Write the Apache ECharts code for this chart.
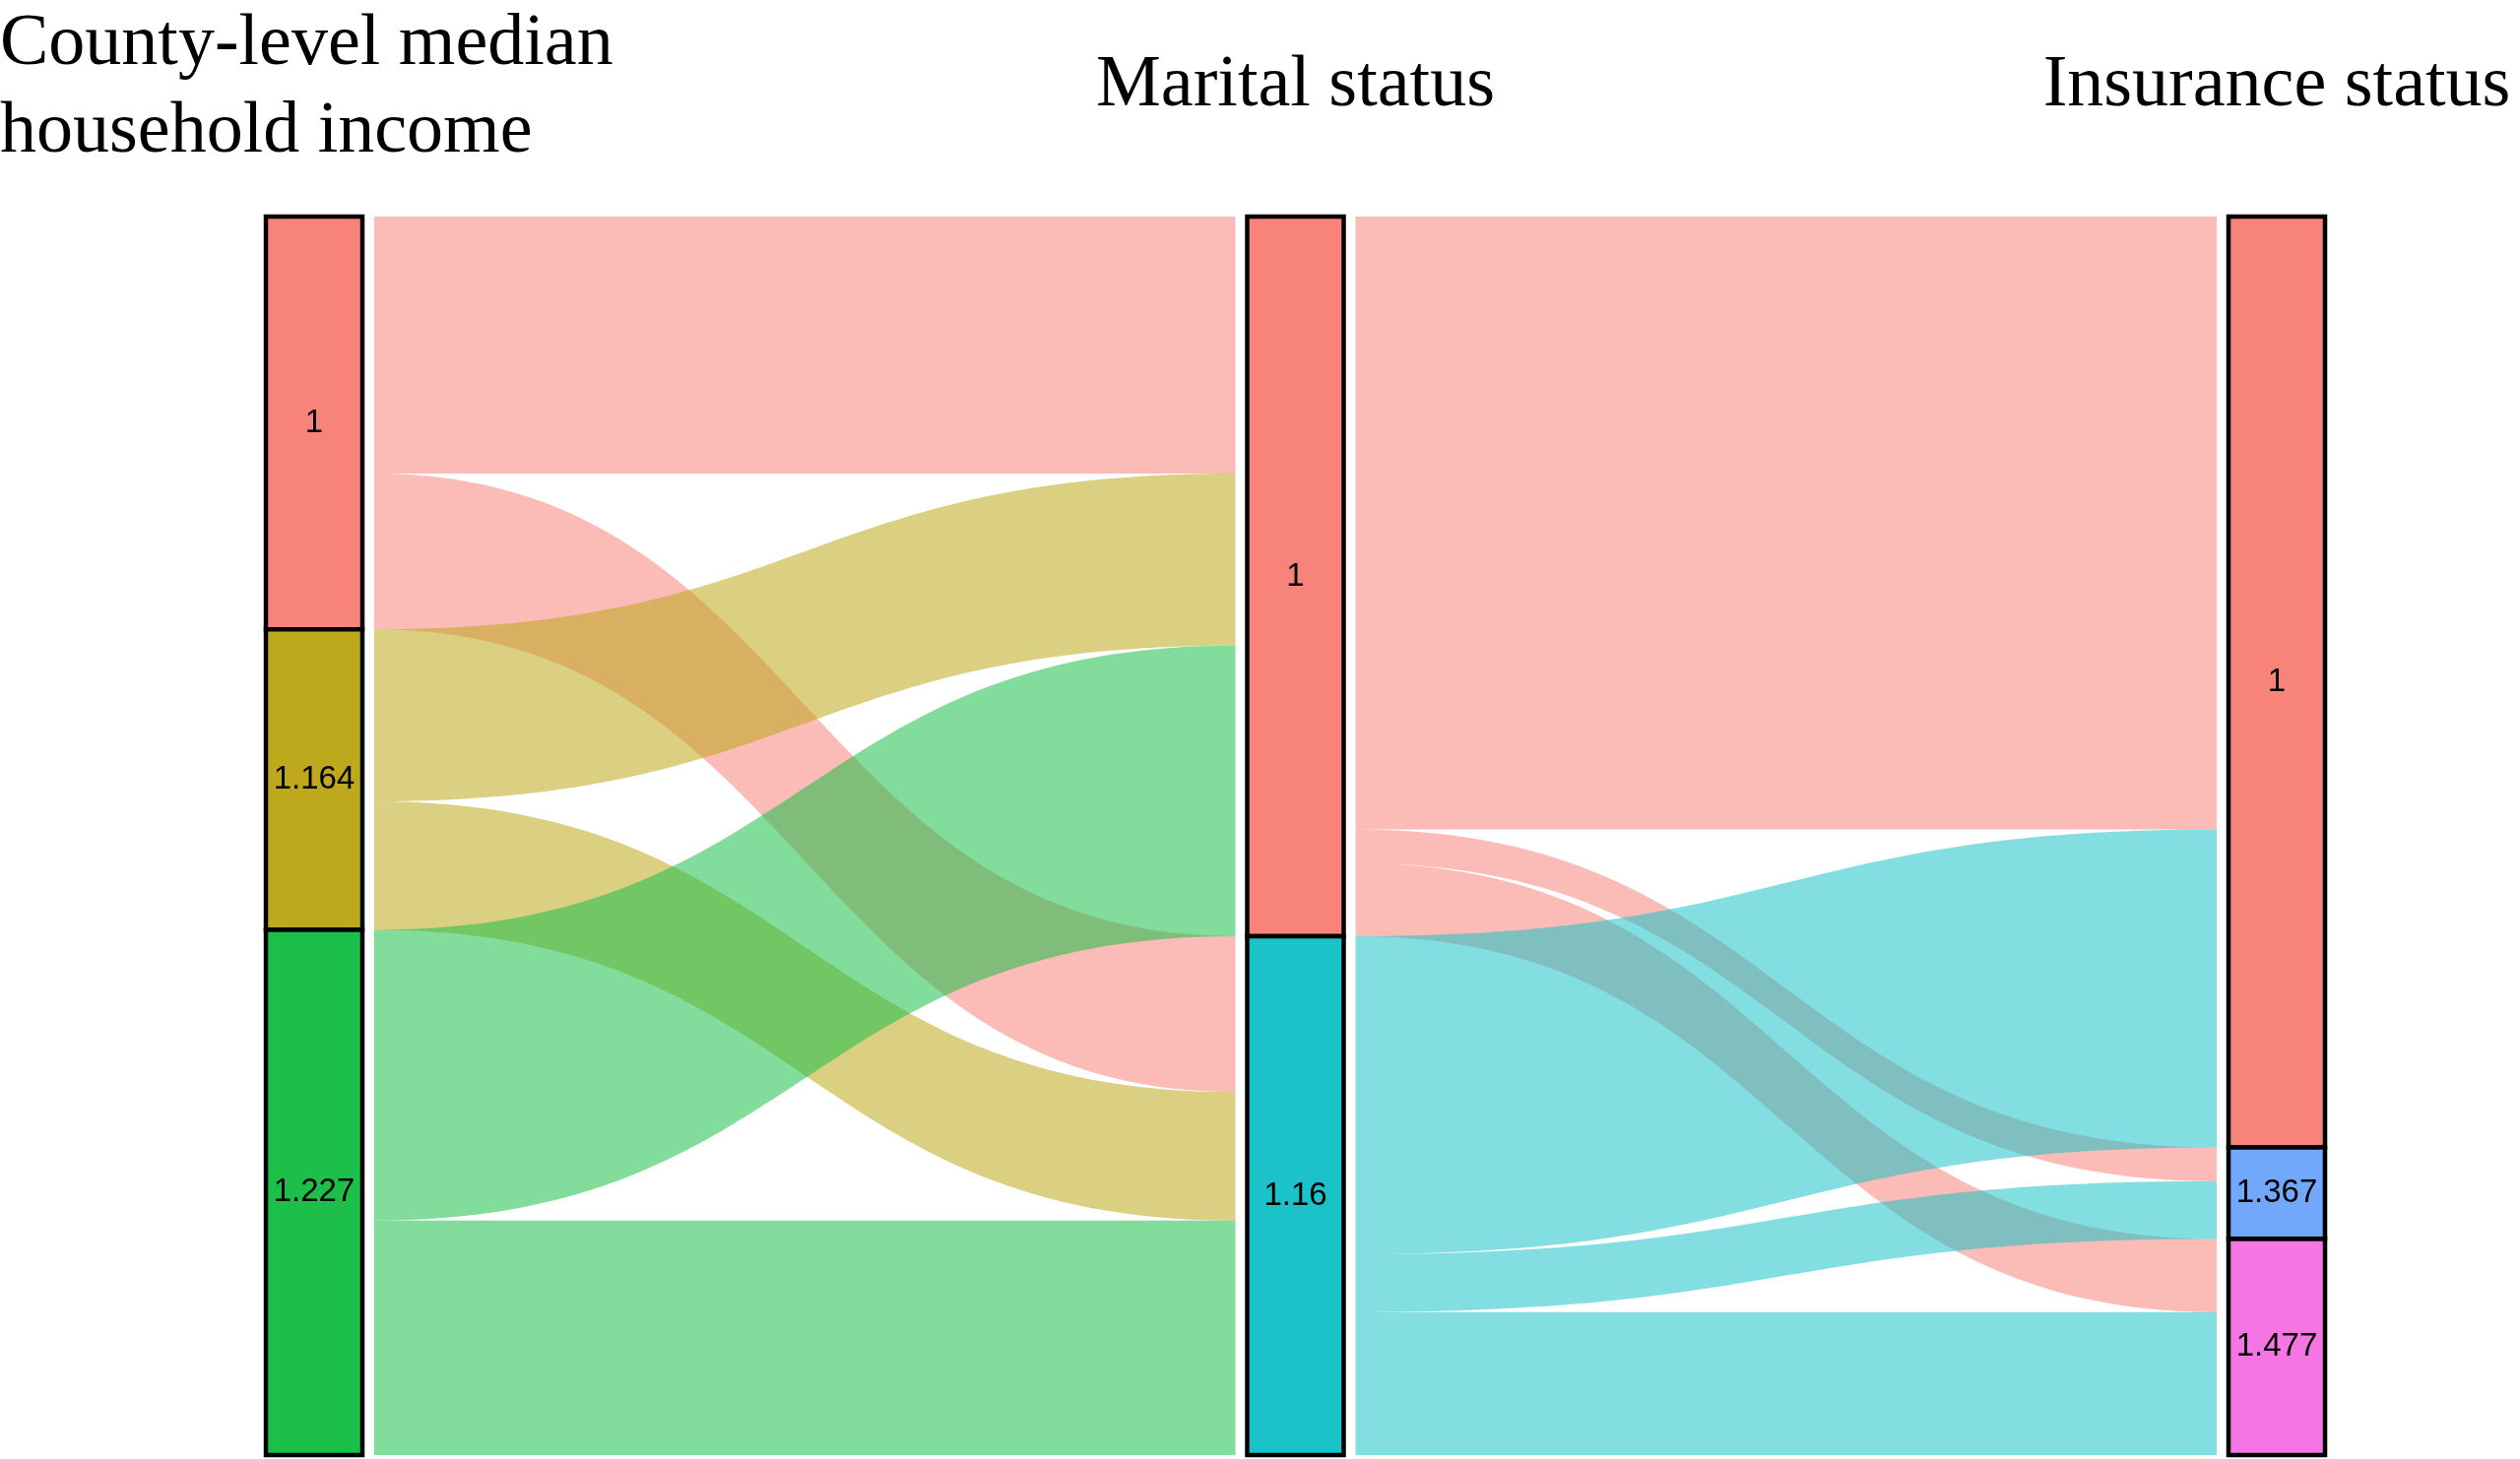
<!DOCTYPE html>
<html lang="en">

<head>
    <meta charset="UTF-8">
    <title>Alluvial</title>
    <script src="https://cdn.jsdelivr.net/npm/echarts@6/dist/echarts.min.js"></script>
    <style>
        html, body { margin: 0; padding: 0; background: #fff; }
        #main { width: 2559px; height: 1482px; }
    </style>
</head>

<body>
    <div id="main"></div>
    <script>
        // stage titles and levels
        var stageTitles = ['County-level median\nhousehold income', 'Marital status', 'Insurance status'];
        var incomeLevels = ['1', '1.164', '1.227'];
        var maritalLevels = ['1', '1.16'];
        var insuranceLevels = ['1', '1.367', '1.477'];

        // flows: rows = source level, columns = target level
        var incomeToMarital = [
            [160, 97],
            [107, 80],
            [181, 146]
        ];
        var maritalToInsurance = [
            [381.5, 21, 45.5],
            [198, 36, 89]
        ];

        var incomeColors = ['#F8837A', '#BEA81C', '#1CBF4A'];
        var maritalColors = ['#F8837A', '#1BC3C9'];
        var insuranceColors = ['#F8837A', '#71A8FB', '#F575E5'];

        // build nodes / links
        var stages = [
            { key: 'inc', levels: incomeLevels, colors: incomeColors },
            { key: 'mar', levels: maritalLevels, colors: maritalColors },
            { key: 'ins', levels: insuranceLevels, colors: insuranceColors }
        ];
        var nodes = [];
        stages.forEach(function (s, d) {
            s.levels.forEach(function (lv, i) {
                nodes.push({
                    name: s.key + '_' + lv,
                    level: lv,
                    depth: d,
                    itemStyle: { color: s.colors[i] }
                });
            });
        });
        var links = [];
        function addLinks(src, tgt, table) {
            table.forEach(function (row, i) {
                row.forEach(function (v, j) {
                    links.push({
                        source: src.key + '_' + src.levels[i],
                        target: tgt.key + '_' + tgt.levels[j],
                        value: v
                    });
                });
            });
        }
        addLinks(stages[0], stages[1], incomeToMarital);
        addLinks(stages[1], stages[2], maritalToInsurance);

        var nodeW = 98;   // visible stratum width
        var gap = 12;     // white space between stratum and flows
        var L = 270, R = 198, T = 220, B = 4;
        var centers = [L + nodeW / 2, (L + 2559 - R) / 2, 2559 - R - nodeW / 2];

        var titleFont = {
            fontFamily: 'Liberation Serif',
            fontSize: 74,
            fontWeight: 'normal',
            color: '#000',
            lineHeight: 89
        };

        var myChart = echarts.init(document.getElementById('main'));
        var option = {
            backgroundColor: '#fff',
            animation: false,
            title: stageTitles.map(function (t, i) {
                // first title: lines left aligned, block starting at the left edge
                return {
                    text: t,
                    left: i === 0 ? 0 : centers[i],
                    textAlign: i === 0 ? 'left' : 'center',
                    top: i === 0 ? 1 : 43,
                    padding: 0,
                    textStyle: titleFont
                };
            }),
            series: [
                // flows (wider invisible nodes leave a gap next to each stratum)
                {
                    type: 'sankey',
                    silent: true,
                    left: L - gap,
                    right: R - gap,
                    top: T,
                    bottom: B,
                    nodeWidth: nodeW + 2 * gap,
                    nodeGap: 0,
                    layoutIterations: 0,
                    draggable: false,
                    data: nodes,
                    links: links,
                    label: { show: false },
                    itemStyle: { opacity: 0, borderWidth: 0 },
                    lineStyle: { color: 'source', opacity: 0.55, curveness: 0.5 },
                    emphasis: { disabled: true }
                },
                // strata
                {
                    type: 'sankey',
                    silent: true,
                    left: L,
                    right: R,
                    top: T,
                    bottom: B,
                    nodeWidth: nodeW,
                    nodeGap: 0,
                    layoutIterations: 0,
                    draggable: false,
                    data: nodes,
                    links: links,
                    label: {
                        show: true,
                        position: 'inside',
                        color: '#000',
                        fontFamily: 'Liberation Sans',
                        fontSize: 33,
                        formatter: function (p) { return p.data.level; }
                    },
                    itemStyle: { borderColor: '#000', borderWidth: 4.5 },
                    lineStyle: { opacity: 0 },
                    emphasis: { disabled: true }
                }
            ]
        };
        myChart.setOption(option);
    </script>
</body>

</html>
